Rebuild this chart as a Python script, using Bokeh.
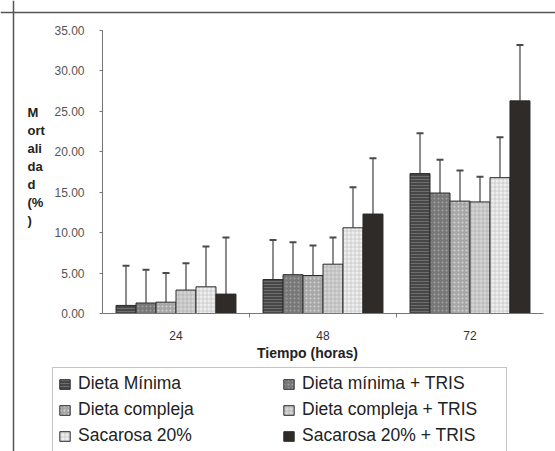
from bokeh.plotting import figure
from bokeh.models import (ColumnDataSource, Range1d, FixedTicker, NumeralTickFormatter,
                          Whisker, TeeHead, Legend, LegendItem, Label, Span)
from bokeh.embed import file_html
from bokeh.resources import INLINE

# ---------------- data ----------------
categories = ["24", "48", "72"]
series = ["Dieta Mínima", "Dieta mínima + TRIS", "Dieta compleja",
          "Dieta compleja + TRIS", "Sacarosa 20%", "Sacarosa 20% + TRIS"]

dieta_minima = [1.0, 4.2, 17.3]
dieta_minima_tris = [1.3, 4.8, 14.9]
dieta_compleja = [1.4, 4.7, 13.9]
dieta_compleja_tris = [2.9, 6.1, 13.8]
sacarosa_20 = [3.3, 10.6, 16.8]
sacarosa_20_tris = [2.4, 12.3, 26.3]

sd_dieta_minima = [4.9, 4.9, 5.0]
sd_dieta_minima_tris = [4.1, 4.0, 4.1]
sd_dieta_compleja = [3.6, 3.7, 3.8]
sd_dieta_compleja_tris = [3.3, 3.3, 3.1]
sd_sacarosa_20 = [5.0, 5.0, 5.0]
sd_sacarosa_20_tris = [7.0, 6.9, 6.9]

y_ticks = [0, 5, 10, 15, 20, 25, 30, 35]
y_title_lines = ["M", "ort", "ali", "da", "d", "(%", ")"]
x_title = "Tiempo (horas)"

means = [dieta_minima, dieta_minima_tris, dieta_compleja,
         dieta_compleja_tris, sacarosa_20, sacarosa_20_tris]
sds = [sd_dieta_minima, sd_dieta_minima_tris, sd_dieta_compleja,
       sd_dieta_compleja_tris, sd_sacarosa_20, sd_sacarosa_20_tris]

# ---------------- styles ----------------
styles = [
    dict(fill_color="#474747", hatch_pattern="horizontal_line", hatch_color="#6e6e6e", hatch_scale=3, hatch_weight=1),
    dict(fill_color="#787878", hatch_pattern="dot", hatch_color="#a0a0a0", hatch_scale=4, hatch_weight=1),
    dict(fill_color="#a6a6a6", hatch_pattern="dot", hatch_color="#d4d4d4", hatch_scale=4, hatch_weight=1),
    dict(fill_color="#d4d4d4", hatch_pattern="cross", hatch_color="#a8a8a8", hatch_scale=4, hatch_weight=0.6),
    dict(fill_color="#efefef", hatch_pattern="cross", hatch_color="#b8b8b8", hatch_scale=4, hatch_weight=0.6),
    dict(fill_color="#2f2b29", hatch_pattern=None, hatch_color="#2f2b29", hatch_scale=4, hatch_weight=1),
]

FONT = "Liberation Sans"
bar_w = 0.136

# ---------------- layout geometry (pixels) ----------------
W, H = 555, 451
AX_LEFT, AX_RIGHT = 102, 543     # x-axis extent in canvas px
AX_TOP, AX_ZERO = 30, 313        # y=35 and y=0 in canvas px
ncat = len(categories)
ymax = y_ticks[-1]
ppx = (AX_RIGHT - AX_LEFT) / ncat
ppy = (AX_ZERO - AX_TOP) / ymax
x_range = Range1d(-AX_LEFT / ppx, ncat + (W - AX_RIGHT) / ppx)
y_range = Range1d(-(H - AX_ZERO) / ppy, ymax + AX_TOP / ppy)

p = figure(width=W, height=H, output_backend="svg", toolbar_location=None,
           x_range=x_range, y_range=y_range,
           min_border=0, min_border_left=0, min_border_right=0,
           min_border_top=0, min_border_bottom=0)
p.outline_line_color = None
p.xgrid.visible = False
p.ygrid.visible = False
p.background_fill_color = "white"
p.border_fill_color = "white"

# scan frame lines (top and left)
p.add_layout(Span(location=y_range.end - 12 / ppy, dimension="width",
                  line_color="#555555", line_width=1.5))
p.add_layout(Span(location=x_range.start + 13 / ppx, dimension="height",
                  line_color="#555555", line_width=1.5))

renderers = []
for k, (name, vals, sd, st) in enumerate(zip(series, means, sds, styles)):
    xs = [i + 0.5 + (k - 2.5) * bar_w for i in range(ncat)]
    src = ColumnDataSource(dict(x=xs, top=vals, upper=[v + s for v, s in zip(vals, sd)]))
    r = p.vbar(x="x", top="top", bottom=0, width=bar_w, source=src,
               line_color="#2a2a2a", line_width=1, **st)
    renderers.append(r)
    wh = Whisker(base="x", lower="top", upper="upper", source=src,
                 line_color="#8c8c8c", line_width=2,
                 lower_head=None,
                 upper_head=TeeHead(size=7, line_color="#4a4a4a", line_width=2))
    p.add_layout(wh)

# axes
yax = p.yaxis[0]
yax.fixed_location = 0
yax.bounds = (0, ymax)
yax.ticker = FixedTicker(ticks=y_ticks)
yax.formatter = NumeralTickFormatter(format="0.00")
yax.major_label_text_font = FONT
yax.major_label_text_font_size = "12px"
yax.major_label_text_color = "#555555"
yax.major_label_standoff = 15
yax.major_tick_out = 3
yax.major_tick_in = 0
yax.minor_tick_out = 0
yax.minor_tick_in = 0
yax.axis_line_color = "#777777"
yax.major_tick_line_color = "#777777"

xax = p.xaxis[0]
xax.fixed_location = 0
xax.bounds = (0, ncat)
xax.ticker = FixedTicker(ticks=[i + 0.5 for i in range(ncat)], minor_ticks=list(range(1, ncat)))
xax.major_label_overrides = {i + 0.5: c for i, c in enumerate(categories)}
xax.major_label_text_font = FONT
xax.major_label_text_font_size = "12px"
xax.major_label_text_color = "#333333"
xax.major_label_standoff = 13
xax.major_tick_out = 0
xax.major_tick_in = 0
xax.minor_tick_out = 4
xax.minor_tick_in = 0
xax.axis_line_color = "#777777"
xax.minor_tick_line_color = "#777777"

# x title (offset left of the axis centre, as in the original)
p.add_layout(Label(x=307, y=H - 352, x_units="screen", y_units="screen",
                   text=x_title, text_font=FONT, text_font_style="bold",
                   text_font_size="14px", text_color="#222222",
                   text_baseline="middle", text_align="center"))

# vertical-wrapped y title
for j, t in enumerate(y_title_lines):
    p.add_layout(Label(x=27, y=H - (112 + j * 18), x_units="screen", y_units="screen",
                       text=t, text_font=FONT, text_font_style="bold",
                       text_font_size="13px", text_color="#222222",
                       text_baseline="middle", text_align="left"))

# legend: two columns, read row by row
order = [0, 2, 4, 1, 3, 5]
legend = Legend(items=[LegendItem(label=series[i], renderers=[renderers[i]]) for i in order],
                location=(52, -1), ncols=2,
                padding=5, spacing=5, margin=0,
                label_height=19, label_width=199, label_standoff=7,
                glyph_width=13, glyph_height=12,
                label_text_font=FONT, label_text_font_size="17.5px", label_text_color="#222222",
                border_line_color="#8a8a8a", border_line_width=1,
                background_fill_color="white", background_fill_alpha=1)
p.add_layout(legend, "center")

open("out.html", "w").write(file_html(p, INLINE))
